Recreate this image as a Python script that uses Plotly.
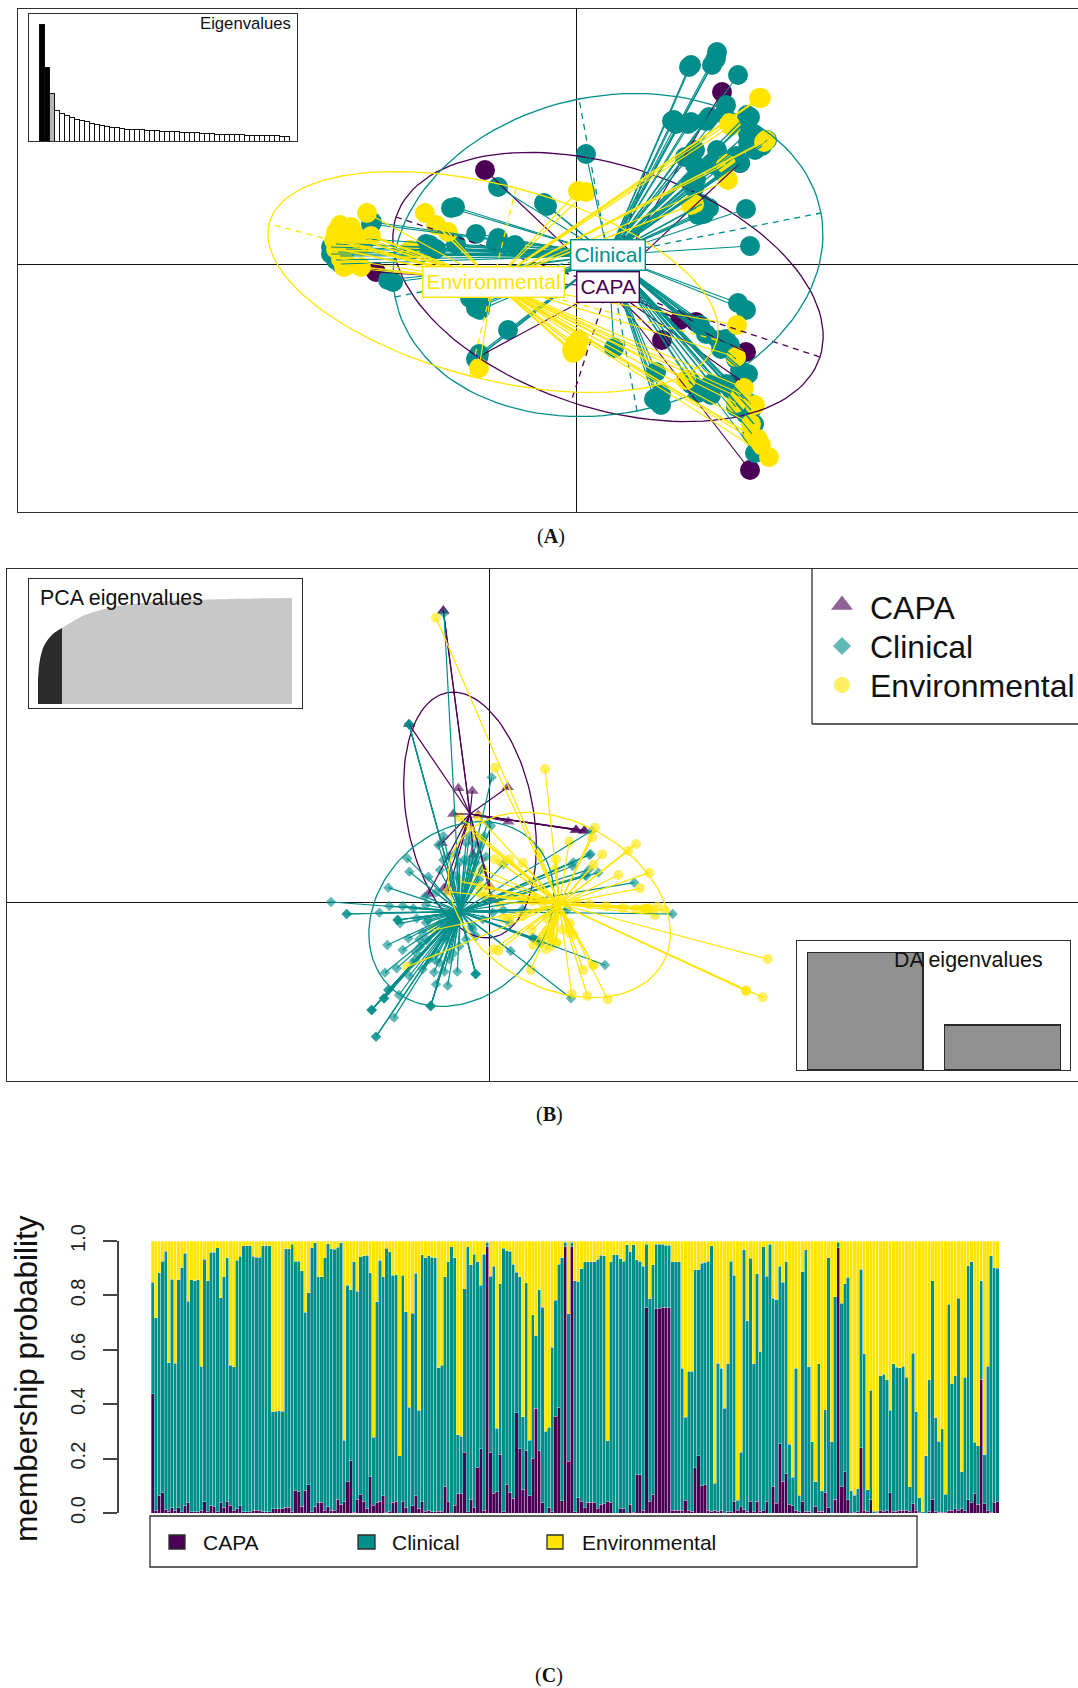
import math
import plotly.graph_objects as go

W, H = 1078, 1688
PURPLE, TEAL, YELLOW = "#4B0055", "#008E8A", "#FFE500"
INK = "#2e2e2e"
GROUPS = ["CAPA", "Clinical", "Environmental"]

# ---------- Panel A: scores (x, y) ----------
a_capa = [(146,172),(86,-76),(170,-88),(120,-58),(104,-56),(174,-206),(-200,-8),(-91,94),(-98,-93),(164,-116),(164,101)]
a_clin = [(115,199),(141,212),(136,199),(162,189),(98,144),(115,142),(133,147),(150,159),(171,149),(174,147),(172,131),
          (191,124),(179,114),(164,101),(141,114),(109,107),(119,99),(115,81),(133,56),(122,49),(170,55),(174,18),(10,110),
          (-29,58),(162,-39),(170,-46),(124,-61),(38,-84),(80,-108),(82,-138),(85,-141),(122,-129),(135,-131),(164,-106),
          (160,-143),(175,-146),(179,-189),(-68,-66),(-98,-93),(-98,-38),(-100,-44),(-106,-34),(-183,-18),(-188,-16),
          (-121,57),(-125,56),(-78,26),(-61,19),(-78,77),(-204,42),(-146,19),(-245,17),(-240,4),(-32,61),(143,-76),(154,-81),(119,114),
          (140,206),(139,204),(113,197),(96,143),(100,140),(112,140),(130,143),(148,150),(168,140),(172,122),(178,130),(186,118),
          (160,108),(147,92),(135,100),(120,85),(118,76),(126,60),(120,56),(128,50),
          (-245,10),(-240,20),(-235,0),(-230,15),(-220,20),(-210,25),(-205,40),(-238,12),(-236,8),(-150,20),(-140,15),(-120,20),(-100,30),(-80,20),
          (175,-140),(168,-135),(160,-130),(155,-125),(150,-120),(170,-150),(165,-145),(178,-160),(176,-170),(172,-110),(160,-95),(145,-85),
          (150,-75),(130,-70),(135,-120),(125,-125),(115,-120),(85,-130),(78,-135),(-95,-40),(-100,-38),(-96,-46),(-97,-90),(-100,-95)]
a_env = [(183,166),(153,141),(190,124),(152,84),(115,59),(2,73),(10,72),(161,-61),(160,-93),(-3,-89),(3,-76),(-1,-83),(110,-116),
         (-97,-104),(168,-124),(179,-141),(160,-139),(177,-173),(185,-181),(193,-193),(-232,-3),(-215,-3),(-209,51),(-240,32),
         (-225,37),(-232,14),(-151,51),(-140,39),(-128,32),(-166,14),(-242,24),(-230,19),(-216,24),(-236,39),
         (185,166),(155,138),(188,122),(150,100),(118,60),(-1,-80),(1,-85),(-4,-86),(175,-160),(182,-175),(165,-130),
         (-225,20),(-232,30),(-240,15),(-238,25),(-222,30),(-215,18),(-205,28),(-235,5),(-228,-1)]
a_centers = {"CAPA": (32,-23), "Clinical": (32,9), "Environmental": (-83,-18)}
# ellipse semi-axis vectors
a_axes = {"CAPA": ((212,-70),(-37,-115)), "Clinical": ((213,42),(-29,156)), "Environmental": ((-224,58),(23,94))}
a_eigen = [349,222,144,91,82,76,72,66,62,58,54,49,46,44,42,40,38,36,35,35,34,33,32,31,30,30,29,28,27,26,
           26,25,24,23,22,21,21,20,20,19,19,18,18,17,17,17,16,16,15,15]

# ---------- Panel B: scores (x, y) ----------
b_capa = [(-138,876),(-241,535),(-93,343),(-51,335),(55,346),(-108,266),(57,243),(-33,263),(260,218),(285,216),(-48,143),
          (-143,178),(-183,26),(-136,43),(-123,33),(7,13),(2,48),(-138,876),(285,216),(260,218)]
b_clin = [(-475,2),(-428,-34),(-303,45),(-246,133),(-240,93),(-183,78),(-153,173),(-138,200),(-148,98),(-138,128),(7,376),(42,115),
          (-10,138),(-228,-17),(-275,-52),(-218,-47),(-183,-52),(-260,-142),(-243,-107),(-306,-127),(-278,-197),(-223,-172),
          (-313,-210),(-303,-262),(-316,-287),(-353,-322),(-340,-402),(-286,-345),(-271,-277),(-176,-310),(-160,-245),(-125,-249),
          (-166,-209),(-135,-207),(-96,-207),(-41,-214),(-108,-152),(-163,-172),(-188,-112),(-208,-132),(64,-145),(347,-187),
          (245,-287),(150,-117),(132,-107),(-53,-72),(550,-34),(435,60),(327,90),(287,83),(304,146),(300,143),(252,121),(307,216),
          (234,-20),(-241,535),(-136,868),(-48,138),(-8,8),(-193,18),(-190,-7),(42,-22),(-148,-62),(-128,-112),(-158,-152),(-268,-62),
          (-340,-402),(-353,-322),(-353,-322),(-316,-287),(-316,-287),(-303,-262),(-241,535),(-241,535),(-41,-214),(-41,-214),(-176,-310),
          (-176,-310),(-428,-34),(-275,-52),(-275,-52),
          (-70,180),(-60,200),(-50,180),(-30,170),(-20,190),(-15,200),(-5,240),(5,230),(-100,150),(-120,140),(-90,120),(-75,130),(-60,120),
          (-40,120),(-20,100),(-100,80),(-60,90),(-30,70),(-160,30),(-190,-60),(-200,-90),(-210,-110),(-220,-150),(-230,-180),(-240,-220),
          (-200,-200),(-180,-170),(-150,-180),(-120,-170),(-90,-130),(-70,-110),(-40,-100),(130,-105),(140,-112),(145,-115),(155,-120),
          (300,100),(290,80),(250,110),(-50,-80),(-20,-50),(10,-30),(60,-60),(100,-20),(200,-20),(-260,-10),(-300,-10),(-330,-30)]
b_env = [(-160,855),(17,405),(167,401),(317,225),(309,196),(240,183),(440,176),(417,156),(339,145),(312,113),(387,83),(480,90),
         (452,43),(197,100),(17,130),(37,118),(-88,256),(-33,258),(477,-17),(504,-12),(497,-37),(527,-22),(462,-19),(482,-22),
         (42,-47),(242,-62),(252,-97),(187,-102),(177,-110),(152,-122),(132,-127),(172,-47),(12,-140),(27,-144),(124,-202),
         (282,-202),(312,-187),(247,-274),(294,-280),(355,-290),(835,-169),(770,-264),(820,-284),(-246,-192),(-3,48),(-123,33),
         (-83,63),(-28,28),(132,18),(262,3),(127,-82),(192,-62),(-168,-82),
         (470,-20),(470,-20),(470,-20),(440,-20),(400,-15),(350,-10),(300,-5),(770,-264),(240,-90),(220,-80),(200,-120),(200,-120),
         (185,-130),(170,-140),(160,-100),(180,-90),(172,-85),(312,-187),(60,130),(100,120),(150,150),(200,130),(-20,100),(-50,90),
         (-70,230),(-40,200),(-60,60),(-30,50),(-10,20),(30,0),(60,20),(100,10),(130,5),(160,0),(100,-40),(60,-50)]
b_centers = {"CAPA": (-58,266), "Clinical": (-88,-27), "Environmental": (210,-4)}
b_ell_centers = {"CAPA": (-58,263), "Clinical": (-84,-34), "Environmental": (210,-7)}
b_axes = {"CAPA": ((-68,367),(187,34)), "Clinical": ((216,216),(174,-174)), "Environmental": ((-310,175),(122,216))}

pca_pcs = [0,1,2.3,5,8,12,17,24,35,45,62,78,95,112,128,162,195,228,254]
pca_cum = [23,35.5,43.4,52.8,58.2,63.2,67.6,71.7,78,83.3,88.4,92.1,94.3,96.2,97.2,98.4,99.1,99.7,100]
pca_retained = 8
da_eigen = [117.4, 45]

# ---------- Panel C: membership (per mille) ----------
capa_pm = [440,10,65,77,13,6,20,10,20,5,26,37,5,5,5,10,42,6,26,23,4,37,22,44,29,9,16,26,4,4,4,11,11,11,4,4,4,15,15,15,15,21,22,4,81,78,25,83,103,4,23,40,39,11,23,11,10,50,32,43,115,194,2,50,69,
           44,18,136,28,38,43,63,2,7,40,43,0,43,22,0,26,63,18,42,6,11,4,4,7,7,96,42,0,28,71,71,224,4,48,20,169,237,11,978,224,72,78,216,5,103,77,54,368,237,88,230,63,202,386,228,40,0,20,5,355,388,45,978,191,978,4,
           56,43,20,40,40,39,18,33,34,44,40,0,0,18,18,0,32,2,140,140,11,754,44,67,751,752,754,756,755,11,11,11,9,47,11,7,167,211,100,103,11,6,10,7,9,0,6,5,44,11,23,13,6,43,4,43,6,11,44,0,99,36,255,114,146,
           32,26,11,5,44,6,7,0,23,7,7,77,20,0,50,975,96,151,48,0,2,5,239,11,5,48,0,2,11,7,10,74,7,7,11,11,11,7,34,11,2,0,0,7,50,6,2,2,2,11,11,16,11,16,9,48,39,72,32,491,34,11,2,40,42]
top_pm = [849,718,884,926,963,553,859,550,857,902,955,779,857,854,858,540,933,854,958,958,975,792,868,938,543,537,930,944,982,982,982,944,941,941,983,983,983,373,375,376,375,972,972,988,926,925,890,738,810,975,994,868,868,939,990,972,969,977,994,268,838,820,923,816,942,
          945,947,884,279,776,930,869,974,961,875,876,210,875,739,388,734,881,377,949,939,945,941,939,534,544,868,924,978,938,287,282,825,979,913,952,923,838,952,996,871,908,311,842,974,964,962,914,886,868,353,847,268,728,651,820,757,301,316,610,782,915,938,996,733,996,853,
          850,898,924,924,924,924,933,947,945,266,923,949,949,935,925,987,960,987,931,926,908,988,787,912,988,988,988,985,985,923,923,924,533,352,521,521,895,895,919,922,925,982,110,551,533,386,548,926,875,47,224,967,706,936,549,879,592,978,870,988,789,784,908,849,924,
          252,132,532,66,887,967,538,262,114,549,81,380,938,262,795,996,772,842,866,81,66,89,897,586,85,451,6,7,504,510,489,377,548,536,534,540,499,96,587,373,56,4,210,489,853,351,263,309,69,768,476,504,789,151,500,909,923,261,248,853,214,539,946,901,900]
y_ticks = [0.0, 0.2, 0.4, 0.6, 0.8, 1.0]


def domx(a, b):
    return [a / W, b / W]


def domy(top, bottom):
    return [1 - bottom / H, 1 - top / H]


def ellipse(center, axes, n=121):
    (ax, ay), (bx, by) = axes
    xs, ys = [], []
    for i in range(n):
        t = 2 * math.pi * i / (n - 1)
        xs.append(center[0] + ax * math.cos(t) + bx * math.sin(t))
        ys.append(center[1] + ay * math.cos(t) + by * math.sin(t))
    return xs, ys


def star(center, pts):
    xs, ys = [], []
    for p in pts:
        xs += [center[0], p[0], None]
        ys += [center[1], p[1], None]
    return xs, ys


def add_line(fig, xs, ys, color, ax, width=1.4, dash=None):
    fig.add_trace(go.Scatter(x=xs, y=ys, mode="lines", line=dict(color=color, width=width, dash=dash),
                             xaxis="x" + ax, yaxis="y" + ax, showlegend=False, hoverinfo="skip"))


fig = go.Figure()
colors = dict(zip(GROUPS, [PURPLE, TEAL, YELLOW]))

# Panel A
a_pts = dict(zip(GROUPS, [a_capa, a_clin, a_env]))
for g in GROUPS:
    pts = a_pts[g]
    fig.add_trace(go.Scatter(x=[p[0] for p in pts], y=[p[1] for p in pts], mode="markers", name=g, showlegend=False,
                             marker=dict(color=colors[g], size=20, line=dict(width=0)), xaxis="x", yaxis="y"))
for g in GROUPS:
    c = a_centers[g]
    xs, ys = star(c, a_pts[g])
    add_line(fig, xs, ys, colors[g], "", 1.15)
    xs, ys = ellipse(c, a_axes[g])
    add_line(fig, xs, ys, colors[g], "", 1.3)
    (ax, ay), (bx, by) = a_axes[g]
    add_line(fig, [c[0] - ax, c[0] + ax, None, c[0] - bx, c[0] + bx],
             [c[1] - ay, c[1] + ay, None, c[1] - by, c[1] + by], colors[g], "", 1.3, "6px,5px")

# Inset A
a_idx = list(range(1, len(a_eigen) + 1))
a_colors = ["#000000", "#000000", "#b5b5b5"] + ["#ffffff"] * (len(a_eigen) - 3)
fig.add_trace(go.Bar(x=a_idx, y=a_eigen, width=1, marker=dict(color=a_colors, line=dict(color="#111111", width=1)),
                     xaxis="x2", yaxis="y2", showlegend=False))

# Panel B
b_pts = dict(zip(GROUPS, [b_capa, b_clin, b_env]))
symbols = dict(zip(GROUPS, ["triangle-up", "diamond", "circle"]))
sizes = dict(zip(GROUPS, [11, 8, 10]))
for g in GROUPS:
    pts = b_pts[g]
    fig.add_trace(go.Scatter(x=[p[0] for p in pts], y=[p[1] for p in pts], mode="markers", showlegend=False,
                             marker=dict(color=colors[g], size=sizes[g], symbol=symbols[g], opacity=0.62, line=dict(width=0)),
                             xaxis="x3", yaxis="y3"))
for g in GROUPS:
    xs, ys = star(b_centers[g], b_pts[g])
    add_line(fig, xs, ys, colors[g], "3", 1.2)
    xs, ys = ellipse(b_ell_centers[g], b_axes[g])
    add_line(fig, xs, ys, colors[g], "3", 1.3)

# Legend markers B
for g, yy, s in zip(GROUPS, [893, 770, 653], [19, 14, 16]):
    fig.add_trace(go.Scatter(x=[1058], y=[yy], mode="markers", showlegend=False,
                             marker=dict(color=colors[g], size=s, symbol=symbols[g], opacity=0.62, line=dict(width=0)),
                             xaxis="x3", yaxis="y3"))

# Inset PCA
k = pca_retained
fig.add_trace(go.Scatter(x=pca_pcs[k - 1:], y=pca_cum[k - 1:], mode="lines", line=dict(width=0, color="#c8c8c8", shape="spline", smoothing=0.6),
                         fill="tozeroy", fillcolor="#c8c8c8", xaxis="x4", yaxis="y4", showlegend=False))
fig.add_trace(go.Scatter(x=pca_pcs[:k], y=pca_cum[:k], mode="lines", line=dict(width=0, color="#2b2b2b", shape="spline", smoothing=0.6),
                         fill="tozeroy", fillcolor="#2b2b2b", xaxis="x4", yaxis="y4", showlegend=False))

# Inset DA
fig.add_trace(go.Bar(x=[1, 2], y=da_eigen, width=0.843, marker=dict(color="#919191", line=dict(color="#2a2a2a", width=1.2)),
                     xaxis="x5", yaxis="y5", showlegend=False))

# Panel C
idx = list(range(1, len(top_pm) + 1))
capa = [v / 1000 for v in capa_pm]
clin = [(t - v) / 1000 for t, v in zip(top_pm, capa_pm)]
env = [(1000 - t) / 1000 for t in top_pm]
for g, vals in zip(GROUPS, [capa, clin, env]):
    fig.add_trace(go.Bar(x=idx, y=vals, width=1, name=g,
                         marker=dict(color=colors[g], line=dict(width=0.7, color="rgba(255,255,255,0.45)")),
                         xaxis="x6", yaxis="y6", showlegend=False))


def frame(**kw):
    d = dict(showgrid=False, zeroline=False, showticklabels=False, ticks="", showline=True, linecolor=INK, linewidth=1.3)
    d.update(kw)
    return d


layout = dict(
    width=W, height=H, margin=dict(l=0, r=0, t=0, b=0, autoexpand=False), paper_bgcolor="white", plot_bgcolor="white",
    barmode="stack", showlegend=False, font=dict(family="Liberation Sans", color="#111111"),
    # A
    xaxis=frame(domain=domx(18, W), range=[-558, 502], mirror=True, zeroline=True, zerolinecolor="#111111", zerolinewidth=1.3, anchor="y"),
    yaxis=frame(domain=domy(9, 512), range=[-248, 255], zeroline=True, zerolinecolor="#111111", zerolinewidth=1.3, anchor="x"),
    xaxis2=frame(domain=domx(29, 297), range=[-1.5, 52.1], mirror=True, anchor="y2"),
    yaxis2=frame(domain=domy(14, 141), range=[0, 381], mirror=True, anchor="x2"),
    # B
    xaxis3=frame(domain=domx(7, W), range=[-1447, 1766], mirror=True, zeroline=True, zerolinecolor="#111111", zerolinewidth=1.3, anchor="y3"),
    yaxis3=frame(domain=domy(569, 1081), range=[-535, 1001], zeroline=True, zerolinecolor="#111111", zerolinewidth=1.3, anchor="x3"),
    xaxis4=frame(domain=domx(29, 302), range=[-9, 264], mirror=True, anchor="y4"),
    yaxis4=frame(domain=domy(579, 708), range=[-3.8, 117.9], mirror=True, anchor="x4"),
    xaxis5=frame(domain=domx(797, 1070), range=[0.505, 2.49], mirror=True, anchor="y5"),
    yaxis5=frame(domain=domy(940.5, 1070), range=[0, 129.5], mirror=True, anchor="x5"),
    # C
    xaxis6=dict(domain=domx(151, 999), range=[0.5, len(idx) + 0.5], visible=False, anchor="y6"),
    yaxis6=dict(domain=domy(1241, 1513), range=[0, 1], anchor="free", position=118 / W, showgrid=False, zeroline=False,
                showline=True, linecolor="#444444", linewidth=1.5, ticks="outside", ticklen=14, tickwidth=1.5, tickcolor="#444444",
                tickvals=y_ticks, ticktext=[f"{v:.1f}" for v in y_ticks], tickangle=-90, ticklabelstandoff=10,
                tickfont=dict(size=20, color="#222222", family="Liberation Sans")),
)


def ann(px, py, text, size, xanchor="left", color="#111111", family="Liberation Sans", angle=0):
    return dict(x=px / W, y=1 - py / H, xref="paper", yref="paper", text=text, showarrow=False, xanchor=xanchor, yanchor="middle",
                font=dict(size=size, color=color, family=family), textangle=angle)


def label(g):
    c = a_centers[g]
    return dict(x=c[0], y=c[1], xref="x", yref="y", text=g, showarrow=False, font=dict(size=21, color=colors[g], family="Liberation Sans"),
                bgcolor="white", bordercolor=colors[g], borderwidth=1.4, borderpad=3)


annotations = [label("Environmental"), label("Clinical"), label("CAPA"),
               ann(293, 23, "Eigenvalues", 16.7, "right"),
               ann(38, 598, "PCA eigenvalues", 21.4),
               ann(892, 960, "DA eigenvalues", 21.4),
               ann(868, 608, "CAPA", 32), ann(868, 647, "Clinical", 32), ann(868, 686, "Environmental", 32),
               ann(26, 1379, "membership probability", 31.6, "center", angle=-90),
               ann(201, 1542, "CAPA", 21), ann(390, 1542, "Clinical", 21), ann(580, 1542, "Environmental", 21),
               ann(551, 536, "(<b>A</b>)", 20, "center", family="Liberation Serif"),
               ann(549, 1114, "(<b>B</b>)", 20, "center", family="Liberation Serif"),
               ann(549, 1675, "(<b>C</b>)", 20, "center", family="Liberation Serif")]


def rect(x0, y0, x1, y1, fill="rgba(0,0,0,0)", color=INK, width=1.3):
    return dict(type="rect", xref="paper", yref="paper", x0=x0 / W, x1=x1 / W, y0=1 - y1 / H, y1=1 - y0 / H,
                fillcolor=fill, line=dict(color=color, width=width))


shapes = [
    dict(type="line", xref="paper", yref="paper", x0=812 / W, x1=812 / W, y0=1 - 724 / H, y1=1 - 569 / H, line=dict(color=INK, width=1.3)),
    dict(type="line", xref="paper", yref="paper", x0=812 / W, x1=1, y0=1 - 724 / H, y1=1 - 724 / H, line=dict(color=INK, width=1.3)),
    rect(150, 1516, 917, 1567),
    rect(169, 1535, 185, 1549, PURPLE),
    rect(358, 1535, 375, 1549, TEAL),
    rect(547, 1535, 563, 1549, YELLOW),
]
layout["annotations"] = annotations
layout["shapes"] = shapes
fig.update_layout(**layout)

fig.write_html("out.html", config={"displayModeBar": False},
               post_script="document.body.style.margin='0';document.documentElement.style.overflow='hidden';")
